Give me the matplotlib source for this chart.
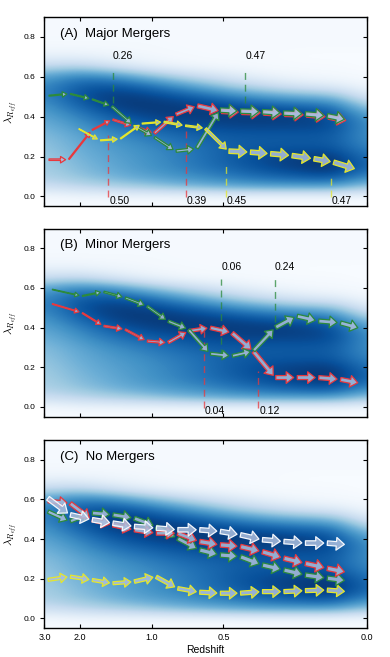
import numpy as np
import matplotlib
matplotlib.use('Agg')
import matplotlib.pyplot as plt
from matplotlib.patches import FancyArrowPatch, ArrowStyle

plt.rcParams['font.family'] = ['Liberation Sans', 'DejaVu Sans']
plt.rcParams['mathtext.fontset'] = 'cm'

# ---- background density (0..1 colour level) ----
# columns: scale factor 0.25 .. 1.0 step 0.075 ; rows: lambda -0.05 .. 0.90 step 0.05
dens_a = np.linspace(0.25, 1.0, 11)
dens_lam = np.linspace(-0.05, 0.90, 20)
density = [
    [0.00, 0.00, 0.00, 0.00, 0.00, 0.00, 0.00, 0.00, 0.00, 0.00, 0.00],
    [0.02, 0.05, 0.05, 0.05, 0.05, 0.05, 0.05, 0.05, 0.05, 0.05, 0.03],
    [0.22, 0.27, 0.33, 0.38, 0.45, 0.50, 0.55, 0.58, 0.58, 0.58, 0.40],
    [0.32, 0.40, 0.48, 0.55, 0.61, 0.67, 0.74, 0.80, 0.85, 0.89, 0.66],
    [0.35, 0.44, 0.52, 0.60, 0.67, 0.75, 0.83, 0.91, 0.96, 1.00, 0.78],
    [0.37, 0.47, 0.55, 0.61, 0.68, 0.76, 0.85, 0.91, 0.94, 0.96, 0.74],
    [0.40, 0.50, 0.58, 0.64, 0.71, 0.77, 0.83, 0.85, 0.85, 0.85, 0.66],
    [0.43, 0.53, 0.63, 0.70, 0.77, 0.82, 0.84, 0.84, 0.84, 0.84, 0.62],
    [0.48, 0.60, 0.72, 0.80, 0.86, 0.90, 0.92, 0.92, 0.92, 0.90, 0.62],
    [0.54, 0.67, 0.82, 0.91, 0.95, 0.96, 0.96, 0.96, 0.94, 0.88, 0.57],
    [0.60, 0.78, 0.93, 0.97, 0.96, 0.94, 0.89, 0.84, 0.79, 0.75, 0.35],
    [0.66, 0.86, 0.95, 0.94, 0.88, 0.78, 0.66, 0.56, 0.49, 0.44, 0.12],
    [0.65, 0.82, 0.87, 0.80, 0.65, 0.49, 0.33, 0.23, 0.15, 0.12, 0.03],
    [0.54, 0.68, 0.64, 0.48, 0.32, 0.20, 0.12, 0.06, 0.03, 0.02, 0.01],
    [0.25, 0.30, 0.20, 0.10, 0.05, 0.03, 0.02, 0.01, 0.01, 0.01, 0.00],
    [0.08, 0.08, 0.05, 0.03, 0.02, 0.01, 0.01, 0.01, 0.00, 0.00, 0.00],
    [0.02, 0.02, 0.02, 0.02, 0.01, 0.01, 0.01, 0.01, 0.01, 0.01, 0.01],
    [0.01, 0.01, 0.01, 0.01, 0.01, 0.01, 0.01, 0.01, 0.01, 0.01, 0.01],
    [0.01, 0.01, 0.01, 0.01, 0.01, 0.01, 0.01, 0.01, 0.01, 0.01, 0.01],
    [0.01, 0.01, 0.01, 0.01, 0.01, 0.01, 0.01, 0.01, 0.01, 0.01, 0.01],
]

# ---- tracks: scale factor, lambda_Re and mass proxy (arrow size) ----
a_A_green = [0.259, 0.309, 0.36, 0.406, 0.457, 0.505, 0.555, 0.604, 0.658, 0.705, 0.756, 0.805, 0.856, 0.907, 0.955]
lam_A_green = [0.505, 0.515, 0.488, 0.453, 0.357, 0.298, 0.227, 0.239, 0.433, 0.428, 0.425, 0.418, 0.414, 0.405, 0.384]
mass_A_green = [1, 1, 1, 2, 2, 2, 2.5, 3, 4.5, 4.5, 4.5, 4.5, 4.5, 4.5]

a_A_red = [0.259, 0.306, 0.36, 0.408, 0.457, 0.505, 0.555, 0.605, 0.661, 0.708, 0.759, 0.808, 0.859, 0.91, 0.958]
lam_A_red = [0.184, 0.184, 0.332, 0.386, 0.352, 0.315, 0.41, 0.455, 0.427, 0.422, 0.419, 0.412, 0.409, 0.399, 0.378]
mass_A_red = [1.5, 1, 1, 1.5, 2, 2.5, 3, 4, 4.5, 4.5, 4.5, 4.5, 4.5, 4.5]

a_A_yellow = [0.329, 0.379, 0.426, 0.476, 0.527, 0.577, 0.624, 0.678, 0.728, 0.775, 0.825, 0.876, 0.922, 0.978]
lam_A_yellow = [0.34, 0.281, 0.288, 0.365, 0.374, 0.355, 0.342, 0.227, 0.222, 0.214, 0.205, 0.189, 0.172, 0.135]
mass_A_yellow = [0.6, 1, 1, 1, 1.5, 1.5, 2.5, 4.5, 4.5, 4.5, 4.5, 4.5, 4.5]

a_B = [0.267, 0.337, 0.387, 0.437, 0.488, 0.537, 0.585, 0.635, 0.686, 0.736, 0.787, 0.837, 0.887, 0.938, 0.986]
lam_B_green = [0.593, 0.559, 0.581, 0.551, 0.509, 0.433, 0.391, 0.268, 0.256, 0.281, 0.399, 0.458, 0.433, 0.424, 0.395]
mass_B_green = [0.6, 1, 1.5, 2, 2, 2.5, 3, 3, 3, 3.5, 4, 4, 4, 4]
lam_B_red = [0.52, 0.475, 0.408, 0.391, 0.332, 0.323, 0.382, 0.399, 0.374, 0.281, 0.147, 0.147, 0.147, 0.138, 0.118]
mass_B_red = [0.8, 1, 1.5, 1.5, 2, 2.5, 3, 3.5, 4, 4, 4, 4, 4, 4]

a_C = [0.257, 0.309, 0.36, 0.408, 0.458, 0.509, 0.559, 0.61, 0.658, 0.705, 0.756, 0.806, 0.856, 0.907, 0.955]
lam_C_green = [0.54, 0.489, 0.532, 0.523, 0.506, 0.464, 0.405, 0.346, 0.32, 0.312, 0.27, 0.245, 0.219, 0.203, 0.19]
mass_C_green = [3.5, 3.5, 4, 4, 4, 4, 4, 4.5, 4.5, 4.5, 4.5, 4.5, 4.5, 4.5]
lam_C_red = [0.592, 0.582, 0.498, 0.472, 0.447, 0.43, 0.43, 0.388, 0.371, 0.363, 0.337, 0.304, 0.278, 0.253, 0.232]
mass_C_red = [3.5, 4, 4, 4, 4, 4, 4, 4.5, 4.5, 4.5, 4.5, 4.5, 4.5, 4.5]
lam_C_white = [0.608, 0.523, 0.498, 0.481, 0.464, 0.456, 0.447, 0.447, 0.439, 0.422, 0.397, 0.388, 0.38, 0.38, 0.372]
mass_C_white = [4.5, 4.5, 4.5, 4.5, 4.5, 4.5, 4.5, 4.5, 4.5, 4.5, 4.5, 4.5, 4.5, 4.5]
lam_C_yellow = [0.194, 0.211, 0.194, 0.177, 0.185, 0.211, 0.152, 0.132, 0.127, 0.127, 0.135, 0.135, 0.14, 0.143, 0.135]
mass_C_yellow = [3, 3, 3, 3, 3.5, 3.5, 3.5, 4, 4, 4, 4, 4, 4, 4]

# ---- merger markers: scale factor, lambda top, lambda bottom, mass ratio ----
mark_A_track = ['green', 'green', 'red', 'red', 'yellow', 'yellow']
mark_A_a = [0.409, 0.718, 0.399, 0.579, 0.673, 0.916]
mark_A_top = [0.645, 0.645, 0.31, 0.33, 0.17, 0.105]
mark_A_bot = [0.47, 0.47, -0.005, -0.005, -0.005, -0.005]
mark_A_text = ['0.26', '0.47', '0.50', '0.39', '0.45', '0.47']

mark_B_track = ['red', 'green', 'red', 'green']
mark_B_a = [0.622, 0.662, 0.748, 0.787]
mark_B_top = [0.38, 0.645, 0.18, 0.645]
mark_B_bot = [-0.005, 0.256, -0.005, 0.43]
mark_B_text = ['0.04', '0.06', '0.12', '0.24']

z_ticks = [3.0, 2.0, 1.0, 0.5, 0.0]
z_tick_labels = ['3.0', '2.0', '1.0', '0.5', '0.0']

edge = {'red': '#e8383d', 'green': '#2c8a3c', 'yellow': '#e4e62c', 'white': '#f4f7fc'}
fill = (0.68, 0.75, 0.87, 0.85)


def draw_track(ax, a, lam, mass, col, zo):
    for i in range(len(a) - 1):
        s = mass[i]
        st = ArrowStyle.Simple(head_length=2.6 + 0.7 * s,
                               head_width=2.4 + 1.5 * s,
                               tail_width=0.72 * s)
        p = FancyArrowPatch((a[i], lam[i]), (a[i + 1], lam[i + 1]),
                            arrowstyle=st, mutation_scale=1,
                            shrinkA=0.5, shrinkB=2.1,
                            fc=fill, ec=edge[col], lw=0.9, zorder=zo)
        ax.add_patch(p)


def draw_marks(ax, tracks, xs, tops, bots, texts):
    for t, x, y0, y1, s in zip(tracks, xs, tops, bots, texts):
        ax.plot([x, x], [y1, y0], ls=(0, (5, 3.5)), color=edge[t], lw=1.0,
                alpha=0.75, zorder=2)
        if y1 > 0.1:
            ax.text(x, 0.68, s, ha='left', va='bottom', fontsize=7.5, zorder=5)
        else:
            ax.text(x + 0.002, 0.003, s, ha='left', va='top', fontsize=7.5, zorder=5)


fig = plt.figure(figsize=(3.9, 6.57), dpi=100)
boxes = [[0.114, 0.686, 0.826, 0.288],
         [0.114, 0.366, 0.826, 0.286],
         [0.114, 0.0437, 0.826, 0.2866]]
titles = ['(A)  Major Mergers', '(B)  Minor Mergers', '(C)  No Mergers']
axes = [fig.add_axes(b) for b in boxes]

da = dens_a[1] - dens_a[0]
dl = dens_lam[1] - dens_lam[0]
for ax, title in zip(axes, titles):
    ax.imshow(np.array(density), origin='lower', cmap='Blues', vmin=0, vmax=1,
              interpolation='bicubic', aspect='auto', zorder=0,
              extent=[dens_a[0] - da / 2, dens_a[-1] + da / 2,
                      dens_lam[0] - dl / 2, dens_lam[-1] + dl / 2])
    ax.set_xlim(0.25, 1.0)
    ax.set_ylim(-0.05, 0.9)
    ax.set_xticks([1.0 / (1.0 + z) for z in z_ticks])
    ax.set_yticks([0.0, 0.2, 0.4, 0.6, 0.8])
    ax.tick_params(axis='y', left=True, right=True, direction='out',
                   length=3, width=0.8, labelsize=6)
    ax.tick_params(axis='x', top=True, bottom=True, direction='in', length=3,
                   width=0.8, labelsize=6.5)
    ax.set_ylabel(r'$\lambda_{R_{eff}}$', fontsize=8.5)
    ax.yaxis.set_label_coords(-0.08, 0.5)
    ax.text(0.048, 0.895, title, transform=ax.transAxes, fontsize=9.5,
            va='baseline', ha='left', zorder=6)
    for sp in ax.spines.values():
        sp.set_linewidth(1.0)

# right ticks point inward, left ones outward
for ax in axes:
    for t in ax.yaxis.get_major_ticks():
        t.tick2line.set_marker(matplotlib.lines.TICKLEFT)

axes[0].set_xticklabels([])
axes[1].set_xticklabels([])
axes[2].set_xticklabels(z_tick_labels)
axes[2].set_xlabel('Redshift', fontsize=7.5, labelpad=2)

ax = axes[0]
draw_marks(ax, mark_A_track, mark_A_a, mark_A_top, mark_A_bot, mark_A_text)
draw_track(ax, a_A_red, lam_A_red, mass_A_red, 'red', 3)
draw_track(ax, a_A_green, lam_A_green, mass_A_green, 'green', 4)
draw_track(ax, a_A_yellow, lam_A_yellow, mass_A_yellow, 'yellow', 4)

ax = axes[1]
draw_marks(ax, mark_B_track, mark_B_a, mark_B_top, mark_B_bot, mark_B_text)
draw_track(ax, a_B, lam_B_red, mass_B_red, 'red', 3)
draw_track(ax, a_B, lam_B_green, mass_B_green, 'green', 4)

ax = axes[2]
draw_track(ax, a_C, lam_C_yellow, mass_C_yellow, 'yellow', 3)
draw_track(ax, a_C, lam_C_green, mass_C_green, 'green', 3)
draw_track(ax, a_C, lam_C_red, mass_C_red, 'red', 4)
draw_track(ax, a_C, lam_C_white, mass_C_white, 'white', 5)

fig.savefig('out.png', dpi=100)
